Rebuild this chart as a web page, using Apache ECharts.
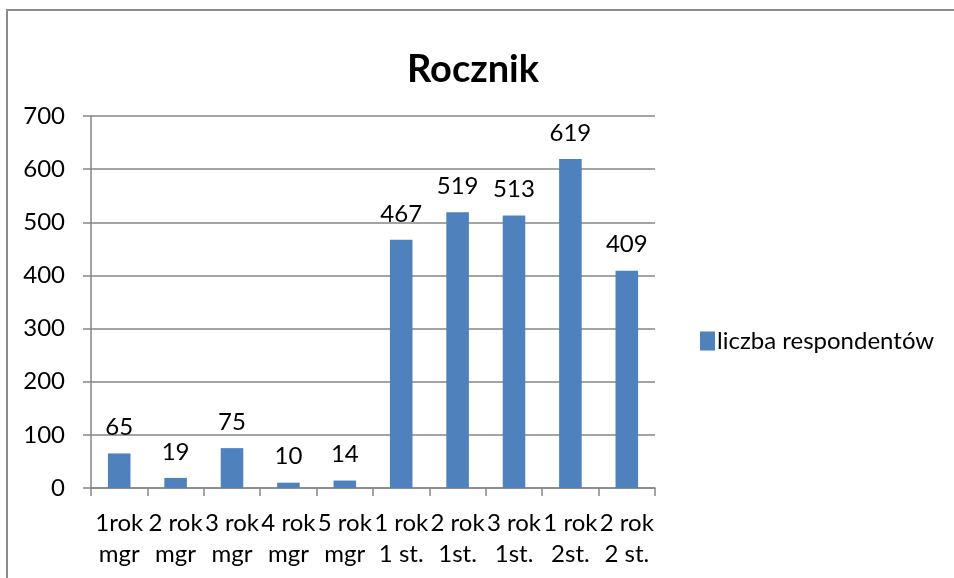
<!DOCTYPE html>
<html>
<head>
<meta charset="utf-8">
<script src="https://cdn.jsdelivr.net/npm/echarts@6/dist/echarts.min.js"></script>
<style>
  html, body { margin: 0; padding: 0; background: #fff; }
  #frame { position: absolute; left: 6px; top: 9px; width: 960px; height: 580px;
           border-left: 2px solid #8c8c8c; border-top: 2px solid #8c8c8c; }
  #main { position: absolute; left: 0; top: 0; width: 954px; height: 578px; }
</style>
</head>
<body>
<div id="frame"></div>
<div id="main"></div>
<script>
// kategorie (rocznik) i liczby respondentów
var categories = ['1rok\nmgr', '2 rok\nmgr', '3 rok\nmgr', '4 rok\nmgr', '5 rok\nmgr',
                  '1 rok\n1 st.', '2 rok\n1st.', '3 rok\n1st.', '1 rok\n2st.', '2 rok\n2 st.'];
var respondents = [65, 19, 75, 10, 14, 467, 519, 513, 619, 409];
var yTicks = [0, 100, 200, 300, 400, 500, 600, 700];

var font = 'Lato, "Open Sans", sans-serif';
var chart = echarts.init(document.getElementById('main'), null, { renderer: 'canvas' });

var option = {
  animation: false,
  title: {
    text: 'Rocznik',
    left: 468,
    top: 46,
    textAlign: 'center',
    textStyle: { fontFamily: font, fontSize: 38, fontWeight: 'bold', color: '#000' }
  },
  legend: {
    data: [{ name: 'liczba respondentów', icon: 'rect' }],
    orient: 'vertical',
    left: 695,
    top: 324,
    itemWidth: 15,
    itemHeight: 19,
    itemGap: 5,
    itemStyle: { borderWidth: 0 },
    textStyle: { fontFamily: font, fontSize: 24, color: '#000', padding: [0, 0, 0, -3] }
  },
  grid: {
    left: 91,
    right: 299,
    top: 116,
    bottom: 90
  },
  xAxis: {
    type: 'category',
    data: categories,
    axisLine: { lineStyle: { color: '#868686', width: 1.5 } },
    axisTick: { show: true, length: 8, lineStyle: { color: '#868686', width: 1.5 } },
    axisLabel: {
      interval: 0,
      margin: 20,
      lineHeight: 31,
      fontFamily: font,
      fontSize: 24,
      color: '#000'
    }
  },
  yAxis: {
    type: 'value',
    min: yTicks[0],
    max: yTicks[yTicks.length - 1],
    interval: 100,
    axisLine: { show: true, lineStyle: { color: '#868686', width: 1.5 } },
    axisTick: { show: true, length: 8, lineStyle: { color: '#868686', width: 1.5 } },
    splitLine: { lineStyle: { color: '#868686', width: 1.5 } },
    axisLabel: { margin: 26, fontFamily: font, fontSize: 24, color: '#000' }
  },
  series: [{
    name: 'liczba respondentów',
    type: 'bar',
    data: respondents,
    barWidth: '40%',
    itemStyle: { color: '#4F81BD' },
    label: {
      show: true,
      position: 'top',
      distance: 14,
      fontFamily: font,
      fontSize: 24,
      color: '#000'
    }
  }]
};

chart.setOption(option);
</script>
</body>
</html>
